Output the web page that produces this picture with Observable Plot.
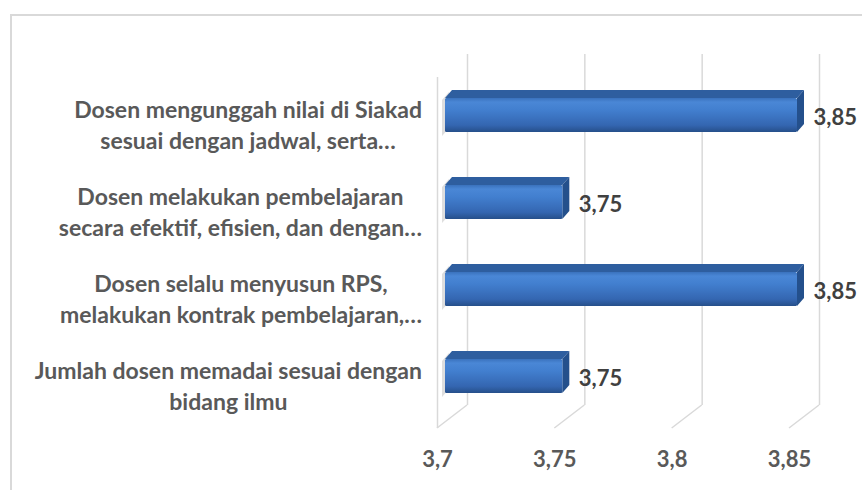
<!DOCTYPE html>
<html>
<head>
<meta charset="utf-8">
<script src="https://cdn.jsdelivr.net/npm/d3@7"></script>
<script src="https://cdn.jsdelivr.net/npm/@observablehq/plot@0.6"></script>
<style>
  html, body { margin: 0; padding: 0; background: #fff; overflow: hidden; }
  #wrap { position: relative; width: 862px; height: 490px; }
  #wrap svg { position: absolute; left: 0; top: 0; }
  #border { position: absolute; left: 10px; top: 14px; width: 920px; height: 600px;
            border: 2px solid #d9d9d9; box-sizing: border-box; pointer-events: none; }
</style>
</head>
<body>
<div id="wrap"><div id="border"></div></div>
<script>
// ---- data ----
const categories = [
  "Dosen mengunggah nilai di Siakad\nsesuai dengan jadwal, serta…",
  "Dosen melakukan pembelajaran\nsecara efektif, efisien, dan dengan…",
  "Dosen selalu menyusun RPS,\nmelakukan kontrak pembelajaran,…",
  "Jumlah dosen memadai sesuai dengan\nbidang ilmu"
];
const values = [3.85, 3.75, 3.85, 3.75];
const valueLabels = ["3,85", "3,75", "3,85", "3,75"];
const xTicks = [3.7, 3.75, 3.8, 3.85];
const xTickLabels = ["3,7", "3,75", "3,8", "3,85"];

const data = categories.map((c, i) => ({category: c, value: values[i], label: valueLabels[i]}));

// ---- styling constants ----
const FONT = "Lato, 'Open Sans', sans-serif";
const GRID = "#d9d9d9";
const DEPTH_X = 7, DEPTH_Y = 8;        // bar extrusion
const WALL_FRONT = -8, WALL_BACK = 22;  // floor depth offsets (px)

// floor diagonals drawn from the x scale
function floorLines(index, scales, vals, dims) {
  const g = d3.create("svg:g").attr("stroke", GRID).attr("stroke-width", 1.5).attr("fill", "none");
  const bottom = dims.height - dims.marginBottom;
  for (const t of xTicks) {
    const fx = scales.x(t) + WALL_FRONT, bx = scales.x(t) + WALL_BACK;
    g.append("line").attr("x1", fx).attr("y1", bottom - 10).attr("x2", bx).attr("y2", bottom - 33);
  }
  return g.node();
}

// top and side faces of the 3D bars, from the x and y scales
function barFaces(index, scales, vals, dims) {
  const g = d3.create("svg:g");
  const x = scales.x, y = scales.y, bw = y.bandwidth();
  for (const d of data) {
    const x0 = x(xTicks[0]), x1 = x(d.value), y0 = y(d.category), y1 = y0 + bw;
    // soft shadow on the left wall
    g.append("path")
      .attr("d", `M${x0 - 3},${y0 + 2}L${x0 + DEPTH_X - 3},${y0 - DEPTH_Y + 2}L${x0 + DEPTH_X - 3},${y1 - DEPTH_Y + 4}L${x0 - 3},${y1 + 4}Z`)
      .attr("fill", "#c8c8c8").attr("opacity", 0.6);
    g.append("path")
      .attr("d", `M${x0},${y0}L${x0 + DEPTH_X},${y0 - DEPTH_Y}L${x1 + DEPTH_X},${y0 - DEPTH_Y}L${x1},${y0}Z`)
      .attr("fill", "#2e5e9f");
    g.append("path")
      .attr("d", `M${x1},${y0}L${x1 + DEPTH_X},${y0 - DEPTH_Y}L${x1 + DEPTH_X},${y1 - DEPTH_Y}L${x1},${y1}Z`)
      .attr("fill", "#24508c");
  }
  return g.node();
}

const chart = Plot.plot({
  width: 862,
  height: 490,
  marginLeft: 445,
  marginRight: 65,
  marginTop: 53,
  marginBottom: 52,
  style: {fontFamily: FONT, background: "transparent", overflow: "visible"},
  x: {domain: [xTicks[0], xTicks[xTicks.length - 1]]},
  y: {domain: categories, padding: 0.612, paddingOuter: 0.5, axis: null},
  marks: [
    // back wall gridlines
    Plot.ruleX(xTicks, {stroke: GRID, strokeWidth: 1.5, dx: WALL_BACK, insetTop: 1, insetBottom: 33}),
    // left wall edge
    Plot.ruleX([xTicks[0]], {stroke: GRID, strokeWidth: 1.5, dx: WALL_FRONT, insetTop: 24, insetBottom: 10}),
    floorLines,
    barFaces,
    Plot.barX(data, {x1: xTicks[0], x2: "value", y: "category", fill: "url(#barGrad)", rx: 1.5}),
    Plot.text(data, {x: "value", y: "category", text: "label", textAnchor: "start", dx: 16, dy: 2,
                     fontSize: 22, fontWeight: "bold", fill: "#404040"}),
    Plot.text(data, {x: xTicks[0], y: "category", text: "category", textAnchor: "middle", dy: 8,
                     lineHeight: 1.35, fontSize: 23, fontWeight: "bold", fill: "#595959"}),
    Plot.axisX(xTicks, {tickSize: 0, tickPadding: 13, dx: WALL_FRONT,
                        tickFormat: d => xTickLabels[xTicks.indexOf(d)],
                        fontSize: 22, fontWeight: "bold", fill: "#595959", label: null})
  ]
});

// gradient for the bar front faces
const defs = d3.select(chart).insert("defs", ":first-child");
const grad = defs.append("linearGradient").attr("id", "barGrad").attr("x1", 0).attr("y1", 0).attr("x2", 0).attr("y2", 1);
[[0, "#3a72bd"], [0.12, "#4a87d6"], [0.35, "#427fcf"], [0.8, "#3466b1"], [1, "#264f8a"]]
  .forEach(([o, c]) => grad.append("stop").attr("offset", o).attr("stop-color", c));

const wrap = document.getElementById("wrap");
wrap.insertBefore(chart, wrap.firstChild);

// right-align each label block against the axis while centering its lines
const xs = chart.scale("x");
const rightEdge = xs.apply(xTicks[0]) - 23;
const firstLines = new Set(categories.map(c => c.split("\n")[0]));
d3.select(chart).selectAll("text").each(function() {
  const first = this.querySelector("tspan");
  if (!first || !firstLines.has(first.textContent)) return;
  const bb = this.getBBox();
  const pt = chart.createSVGPoint();
  pt.x = bb.x + bb.width / 2; pt.y = bb.y;
  const sp = pt.matrixTransform(this.getScreenCTM());
  const svgRect = chart.getBoundingClientRect();
  const currentCenter = sp.x - svgRect.left;
  const shift = (rightEdge - bb.width / 2) - currentCenter;
  this.setAttribute("transform", `translate(${shift},0) ` + (this.getAttribute("transform") || ""));
});
</script>
</body>
</html>
